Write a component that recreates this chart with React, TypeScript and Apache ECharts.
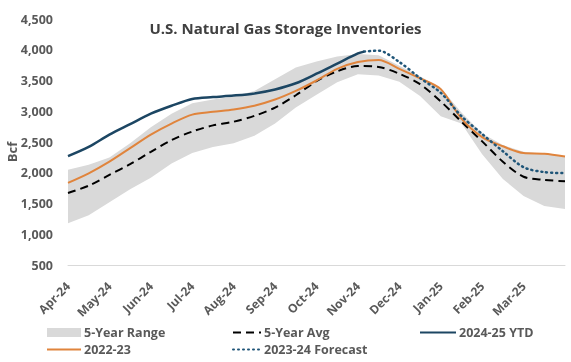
import { useEffect, useRef } from 'react';
import * as echarts from 'echarts';

const monthLabels = ['Apr-24', 'May-24', 'Jun-24', 'Jul-24', 'Aug-24', 'Sep-24', 'Oct-24', 'Nov-24', 'Dec-24', 'Jan-25', 'Feb-25', 'Mar-25'];
const yTicks = [500, 1000, 1500, 2000, 2500, 3000, 3500, 4000, 4500];

// x positions in months since Apr-24 (half-month steps)
const xMonths = [0, 0.5, 1, 1.5, 2, 2.5, 3, 3.5, 4, 4.5, 5, 5.5, 6, 6.5, 7, 7.5, 8, 8.5, 9, 9.5, 10, 10.5, 11, 11.5, 12];
const rangeLow = [1180, 1310, 1520, 1730, 1920, 2150, 2320, 2420, 2480, 2600, 2800, 3060, 3270, 3470, 3600, 3580, 3480, 3250, 2920, 2800, 2300, 1900, 1620, 1460, 1410];
const rangeHigh = [2050, 2130, 2250, 2480, 2740, 2960, 3130, 3190, 3240, 3330, 3520, 3710, 3810, 3890, 3930, 3910, 3740, 3570, 3380, 2980, 2640, 2450, 2340, 2310, 2270];
const avg5 = [1670, 1790, 1965, 2140, 2340, 2530, 2670, 2770, 2830, 2925, 3060, 3260, 3490, 3650, 3735, 3720, 3610, 3440, 3160, 2830, 2510, 2180, 1935, 1885, 1860];
const y2223 = [1835, 1990, 2180, 2400, 2620, 2800, 2945, 2990, 3030, 3090, 3190, 3330, 3500, 3690, 3800, 3835, 3690, 3535, 3360, 2880, 2580, 2430, 2320, 2310, 2265];

const ytdX = [0, 0.5, 1, 1.5, 2, 2.5, 3, 3.5, 4, 4.5, 5, 5.5, 6, 6.5, 7, 7.15];
const ytd = [2270, 2420, 2620, 2790, 2960, 3090, 3200, 3230, 3255, 3290, 3355, 3455, 3610, 3775, 3940, 3970];

const fcX = [7.15, 7.5, 8, 8.5, 9, 9.5, 10, 10.5, 11, 11.5, 12];
const forecast = [3970, 3985, 3800, 3540, 3300, 2920, 2630, 2350, 2090, 2010, 1995];

const FONT = 'Open Sans';
const GREY = '#595959';
const BAND = '#d9d9d9';

function pairs(xs: number[], ys: number[]) {
  return xs.map((x, i) => [x, ys[i]]);
}

export default function App() {
  const ref = useRef<HTMLDivElement>(null);
  useEffect(() => {
    if (!ref.current) return;
    const chart = echarts.init(ref.current, undefined, { renderer: 'svg' });
    const legendText = { fontFamily: FONT, fontWeight: 'bold', fontSize: 12.5, color: GREY, padding: [0, 0, 0, -2] };
    const bandRows = xMonths.map((x, i) => [x, rangeLow[i], rangeHigh[i]]);
    chart.setOption({
      animation: false,
      title: {
        text: 'U.S. Natural Gas Storage Inventories',
        left: 'center',
        top: 15,
        textStyle: { fontFamily: FONT, fontWeight: 'bold', fontSize: 15, color: '#404040' },
      },
      graphic: [
        {
          type: 'text',
          x: 12,
          y: 152,
          rotation: Math.PI / 2,
          style: {
            text: 'Bcf',
            fontFamily: FONT,
            fontWeight: 'bold',
            fontSize: 13,
            fill: GREY,
            align: 'center',
            verticalAlign: 'middle',
          },
        },
      ],
      grid: { left: 68, right: 6, top: 19, bottom: 97, outerBoundsMode: 'none', containLabel: false },
      legend: [
        {
          left: 41, top: 321, orient: 'vertical', itemWidth: 34, itemHeight: 9, itemGap: 4,
          textStyle: legendText,
          itemStyle: { opacity: 0 },
          data: [
            { name: '5-Year Range', icon: 'rect', itemStyle: { color: BAND, opacity: 1 } },
            { name: '2022-23' },
          ],
        },
        {
          left: 227, top: 321, orient: 'vertical', itemWidth: 28, itemHeight: 9, itemGap: 4,
          textStyle: legendText,
          itemStyle: { opacity: 0 },
          data: [{ name: '5-Year Avg' }, { name: '2023-24 Forecast' }],
        },
        {
          left: 414, top: 321, orient: 'vertical', itemWidth: 36, itemHeight: 9, itemGap: 4,
          textStyle: legendText,
          itemStyle: { opacity: 0 },
          data: [{ name: '2024-25 YTD' }],
        },
      ],
      xAxis: {
        type: 'value',
        min: 0,
        max: 12,
        interval: 1,
        axisLine: { show: true, lineStyle: { color: BAND, width: 1 } },
        axisTick: { show: false },
        splitLine: { show: false },
        axisLabel: {
          rotate: 45,
          margin: 19,
          fontFamily: FONT,
          fontWeight: 'bold',
          fontSize: 12,
          color: GREY,
          formatter: (v: number) => monthLabels[Math.round(v)] ?? '',
        },
      },
      yAxis: {
        type: 'value',
        min: yTicks[0],
        max: yTicks[yTicks.length - 1],
        interval: 500,
        axisLine: { show: false },
        axisTick: { show: false },
        splitLine: { show: false },
        axisLabel: {
          margin: 15,
          fontFamily: FONT,
          fontWeight: 'bold',
          fontSize: 12.5,
          color: GREY,
          formatter: (v: number) => v.toLocaleString('en-US'),
        },
      },
      series: [
        {
          name: '5-Year Range',
          type: 'custom',
          data: bandRows,
          encode: { x: 0, y: [1, 2] },
          itemStyle: { color: BAND },
          silent: true,
          renderItem: (params: any, api: any) => {
            if (params.dataIndex !== 0) return null;
            const top = bandRows.map((r) => api.coord([r[0], r[2]]));
            const bottom = bandRows.map((r) => api.coord([r[0], r[1]])).reverse();
            return {
              type: 'polygon',
              shape: { points: top.concat(bottom), smooth: 0 },
              style: { fill: BAND },
            };
          },
        },
        {
          name: '5-Year Avg',
          type: 'line',
          data: pairs(xMonths, avg5),
          symbol: 'none',
          smooth: 0.3,
          itemStyle: { color: '#000000' },
          lineStyle: { color: '#000000', width: 2, type: [8, 5] },
        },
        {
          name: '2022-23',
          type: 'line',
          data: pairs(xMonths, y2223),
          symbol: 'none',
          smooth: 0.3,
          itemStyle: { color: '#e0843c' },
          lineStyle: { color: '#e0843c', width: 2 },
        },
        {
          name: '2023-24 Forecast',
          type: 'line',
          data: pairs(fcX, forecast),
          symbol: 'none',
          smooth: 0.3,
          itemStyle: { color: '#1f5578' },
          lineStyle: { color: '#1f5578', width: 2.5, type: [1, 4], cap: 'round' },
        },
        {
          name: '2024-25 YTD',
          type: 'line',
          data: pairs(ytdX, ytd),
          symbol: 'none',
          smooth: 0.3,
          itemStyle: { color: '#1c4663' },
          lineStyle: { color: '#1c4663', width: 2.5 },
        },
      ],
    });
    return () => chart.dispose();
  }, []);
  return <div ref={ref} style={{ width: 571, height: 362, position: 'fixed', left: 0, top: 0 }} />;
}
